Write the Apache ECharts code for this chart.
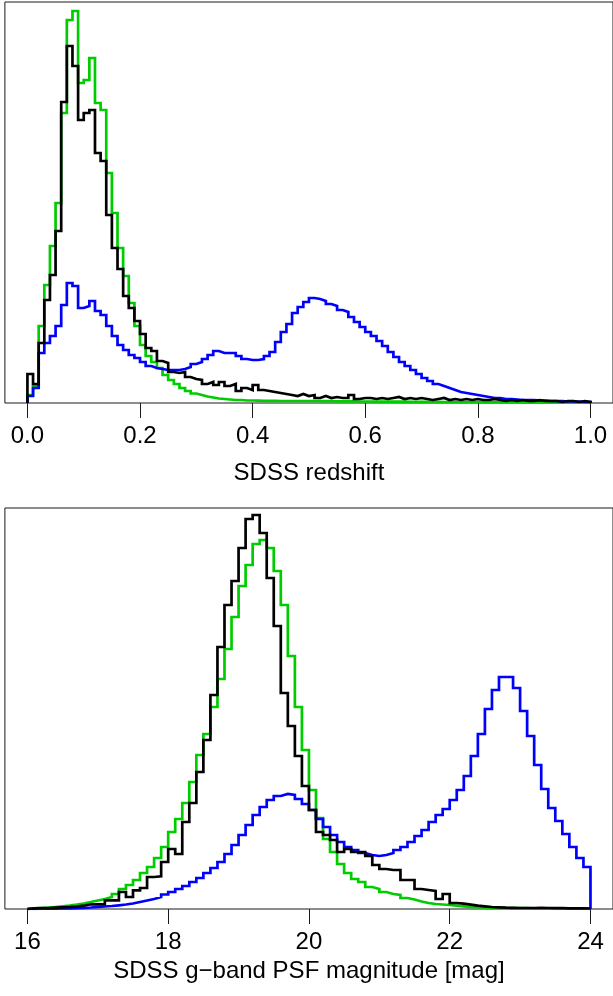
<!DOCTYPE html>
<html>
<head>
<meta charset="utf-8">
<script src="https://cdn.jsdelivr.net/npm/echarts@6/dist/echarts.min.js"></script>
<style>
  html, body { margin: 0; padding: 0; background: #fff; }
  #main { width: 613px; height: 996px; }
</style>
</head>
<body>
<div id="main"></div>
<script>
// redshift histograms, bins of 0.01 from 0.0 to 1.0
var zStart = 0, zWidth = 0.01;
var zTicks = [0, 0.2, 0.4, 0.6, 0.8, 1.0];
var zBlue = [7, 15, 50, 60, 67, 77, 98, 120, 117, 95, 97, 102, 92, 88, 77, 67, 58, 53, 48, 45,
             41, 37, 35, 34, 33, 33, 33, 34, 36, 39, 41, 44, 48, 52, 50, 50, 50, 47, 44, 43,
             43, 44, 47, 51, 61, 71, 79, 90, 96, 101, 105, 104, 102, 99, 97, 93, 91, 86, 81, 76,
             71, 67, 62, 57, 51, 46, 41, 37, 33, 29, 25, 22, 19, 17, 15, 13, 11, 10, 9, 8,
             7, 6, 5, 5, 4, 4, 3.5, 3, 3, 3, 2.5, 2.5, 2, 2, 2, 1.5, 1.5, 1.5, 1, 1];
var zGreen = [8, 17, 77, 118, 157, 200, 290, 383, 392, 320, 323, 345, 300, 293, 230, 190, 155, 127, 100, 77,
              58, 47, 41, 35, 28, 23, 19, 15, 12, 9.5, 8, 6.5, 5.5, 4.5, 4, 3.5, 3, 3, 2.5, 2.5,
              2.3, 2.2, 2.2, 2.1, 2, 2, 2, 2, 2, 2, 2, 1.8, 1.8, 1.8, 1.7, 1.7, 1.6, 1.6, 1.5, 1.5,
              1.5, 1.4, 1.4, 1.4, 1.3, 1.3, 1.3, 1.2, 1.2, 1.2, 1.1, 1.1, 1.1, 1, 1, 1, 1, 1, 1, 1,
              0.9, 0.9, 0.9, 0.9, 0.8, 0.8, 0.8, 0.8, 0.7, 0.7, 0.7, 0.7, 0.6, 0.6, 0.6, 0.6, 0.5, 0.5, 0.5, 0.5];
var zBlack = [29, 19, 60, 103, 128, 172, 301, 357, 337, 283, 290, 293, 250, 242, 188, 155, 134, 107, 95, 82,
              69, 55, 52, 42, 40, 31, 30, 31, 26, 24, 23, 19, 21, 18, 21, 17, 19, 12, 15, 13,
              18, 13, 12, 11, 10, 9, 8, 7, 9, 7, 8, 5, 7, 5, 6, 5, 5, 8, 4, 5,
              5, 4, 5, 4, 5, 6, 4, 5, 4, 5, 4, 3, 4, 5, 3, 4, 3, 4, 3, 4,
              3, 3, 4, 3, 2, 3, 2, 3, 2, 2, 3, 2, 2, 2, 1, 2, 2, 1, 2, 1];

// g-band PSF magnitude histograms, bins of 0.1 mag from 16 to 24
var gStart = 16, gWidth = 0.1;
var gTicks = [16, 18, 20, 22, 24];
var gBlue = [0.2, 0.3, 0.3, 0.4, 0.5, 0.7, 0.9, 1.2, 1.5, 2, 2.5, 3, 3.7, 4.5, 5.5, 7, 8.5, 10, 12, 14.5,
             17, 20, 23, 27, 31, 36, 41, 47, 55, 64, 74, 84, 94, 102, 109, 113, 115, 114, 110, 105,
             99, 90, 82, 74, 67, 62, 59, 56, 54, 53, 54, 56, 59, 62, 67, 73, 79, 87, 94, 100,
             109, 119, 133, 153, 175, 200, 219, 232, 232, 221, 198, 173, 144, 120, 101, 88, 75, 62, 51, 42];
var gGreen = [0.7, 1, 1.3, 2, 2.7, 3.3, 4.3, 5.5, 7, 8.5, 10, 12, 15, 20, 24, 29, 36, 42, 51, 62,
              77, 90, 106, 127, 154, 175, 202, 230, 260, 292, 323, 344, 365, 369, 361, 338, 304, 253, 202, 159,
              119, 91, 70, 57, 45, 36, 30, 27, 22, 20, 17, 15, 14, 11, 9.5, 7.5, 6, 5, 4.5, 4,
              3.3, 2.7, 2, 1.7, 1.5, 1.2, 1, 1, 0.9, 0.8, 0.8, 0.7, 0.6, 0.6, 0.5, 0.5, 0.4, 0.4, 0.3, 0.3];
var gBlack = [0.7, 1, 1, 1.3, 1.7, 2, 2.3, 3.3, 4.7, 4.7, 4.7, 8.7, 8.7, 17, 12, 18.7, 21, 32, 32.7, 47,
              60, 55, 87, 106, 137, 169, 214, 262, 304, 328, 361, 390, 394, 376, 331, 283, 216, 183, 153, 123,
              99, 77, 74, 69, 57, 60, 57, 57, 53, 44, 40, 39, 39, 29, 29, 20, 19, 18, 10, 15,
              6, 5.3, 4.3, 3.3, 2.7, 2, 1.7, 1.3, 1.2, 1, 1, 1, 1.2, 1, 0.8, 0.8, 0.7, 0.7, 0.6, 0.5];

// turn bin heights into a closed step outline (left edges, last right edge, drop to 0)
function steps(start, width, vals) {
    var d = [[start, 0]];
    for (var i = 0; i < vals.length; i++) {
        d.push([+(start + i * width).toFixed(4), vals[i]]);
    }
    var end = +(start + vals.length * width).toFixed(4);
    d.push([end, vals[vals.length - 1]]);
    d.push([end, 0]);
    return d;
}

var FONT = 'Liberation Sans, Arial, sans-serif';
var AXC = '#1a1a1a';

function xAxisFor(gridIndex, ticks, name, gap, fmt) {
    var span = ticks[ticks.length - 1] - ticks[0];
    return {
        type: 'value',
        gridIndex: gridIndex,
        min: ticks[0] - span * 0.04,
        max: ticks[ticks.length - 1] + span * 0.04,
        name: name,
        nameLocation: 'middle',
        nameGap: gap,
        nameTextStyle: { fontFamily: FONT, fontSize: 24, color: '#000' },
        axisLine: { show: false, onZero: false },
        splitLine: { show: false },
        axisTick: {
            show: true, length: 15, customValues: ticks,
            lineStyle: { color: AXC, width: 1 }
        },
        axisLabel: {
            show: true, margin: 21, customValues: ticks,
            fontFamily: FONT, fontSize: 24, color: '#000',
            formatter: fmt
        }
    };
}

function yAxisFor(gridIndex) {
    return {
        type: 'value', gridIndex: gridIndex, min: 0, max: 401,
        show: false, splitLine: { show: false }
    };
}

function line(name, data, color, xi) {
    return {
        name: name,
        type: 'line',
        xAxisIndex: xi,
        yAxisIndex: xi,
        step: 'end',
        symbol: 'none',
        silent: true,
        lineStyle: { color: color, width: 2.7, join: 'miter' },
        data: data
    };
}

var chart = echarts.init(document.getElementById('main'), null, { renderer: 'canvas' });
var option = {
    animation: false,
    backgroundColor: '#fff',
    grid: [
        { left: 4.9, top: 2, width: 611.3, height: 401, show: true, borderColor: AXC, borderWidth: 1, backgroundColor: 'transparent' },
        { left: 4.9, top: 508, width: 611.3, height: 401, show: true, borderColor: AXC, borderWidth: 1, backgroundColor: 'transparent' }
    ],
    xAxis: [
        xAxisFor(0, zTicks, 'SDSS redshift', 58, function (v) { return v.toFixed(1); }),
        xAxisFor(1, gTicks, 'SDSS g\u2212band PSF magnitude [mag]', 50, function (v) { return String(v); })
    ],
    yAxis: [yAxisFor(0), yAxisFor(1)],
    series: [
        line('green z', steps(zStart, zWidth, zGreen), '#00cd00', 0),
        line('blue z', steps(zStart, zWidth, zBlue), '#0000ff', 0),
        line('black z', steps(zStart, zWidth, zBlack), '#000000', 0),
        line('green g', steps(gStart, gWidth, gGreen), '#00cd00', 1),
        line('blue g', steps(gStart, gWidth, gBlue), '#0000ff', 1),
        line('black g', steps(gStart, gWidth, gBlack), '#000000', 1)
    ]
};
chart.setOption(option);
</script>
</body>
</html>
